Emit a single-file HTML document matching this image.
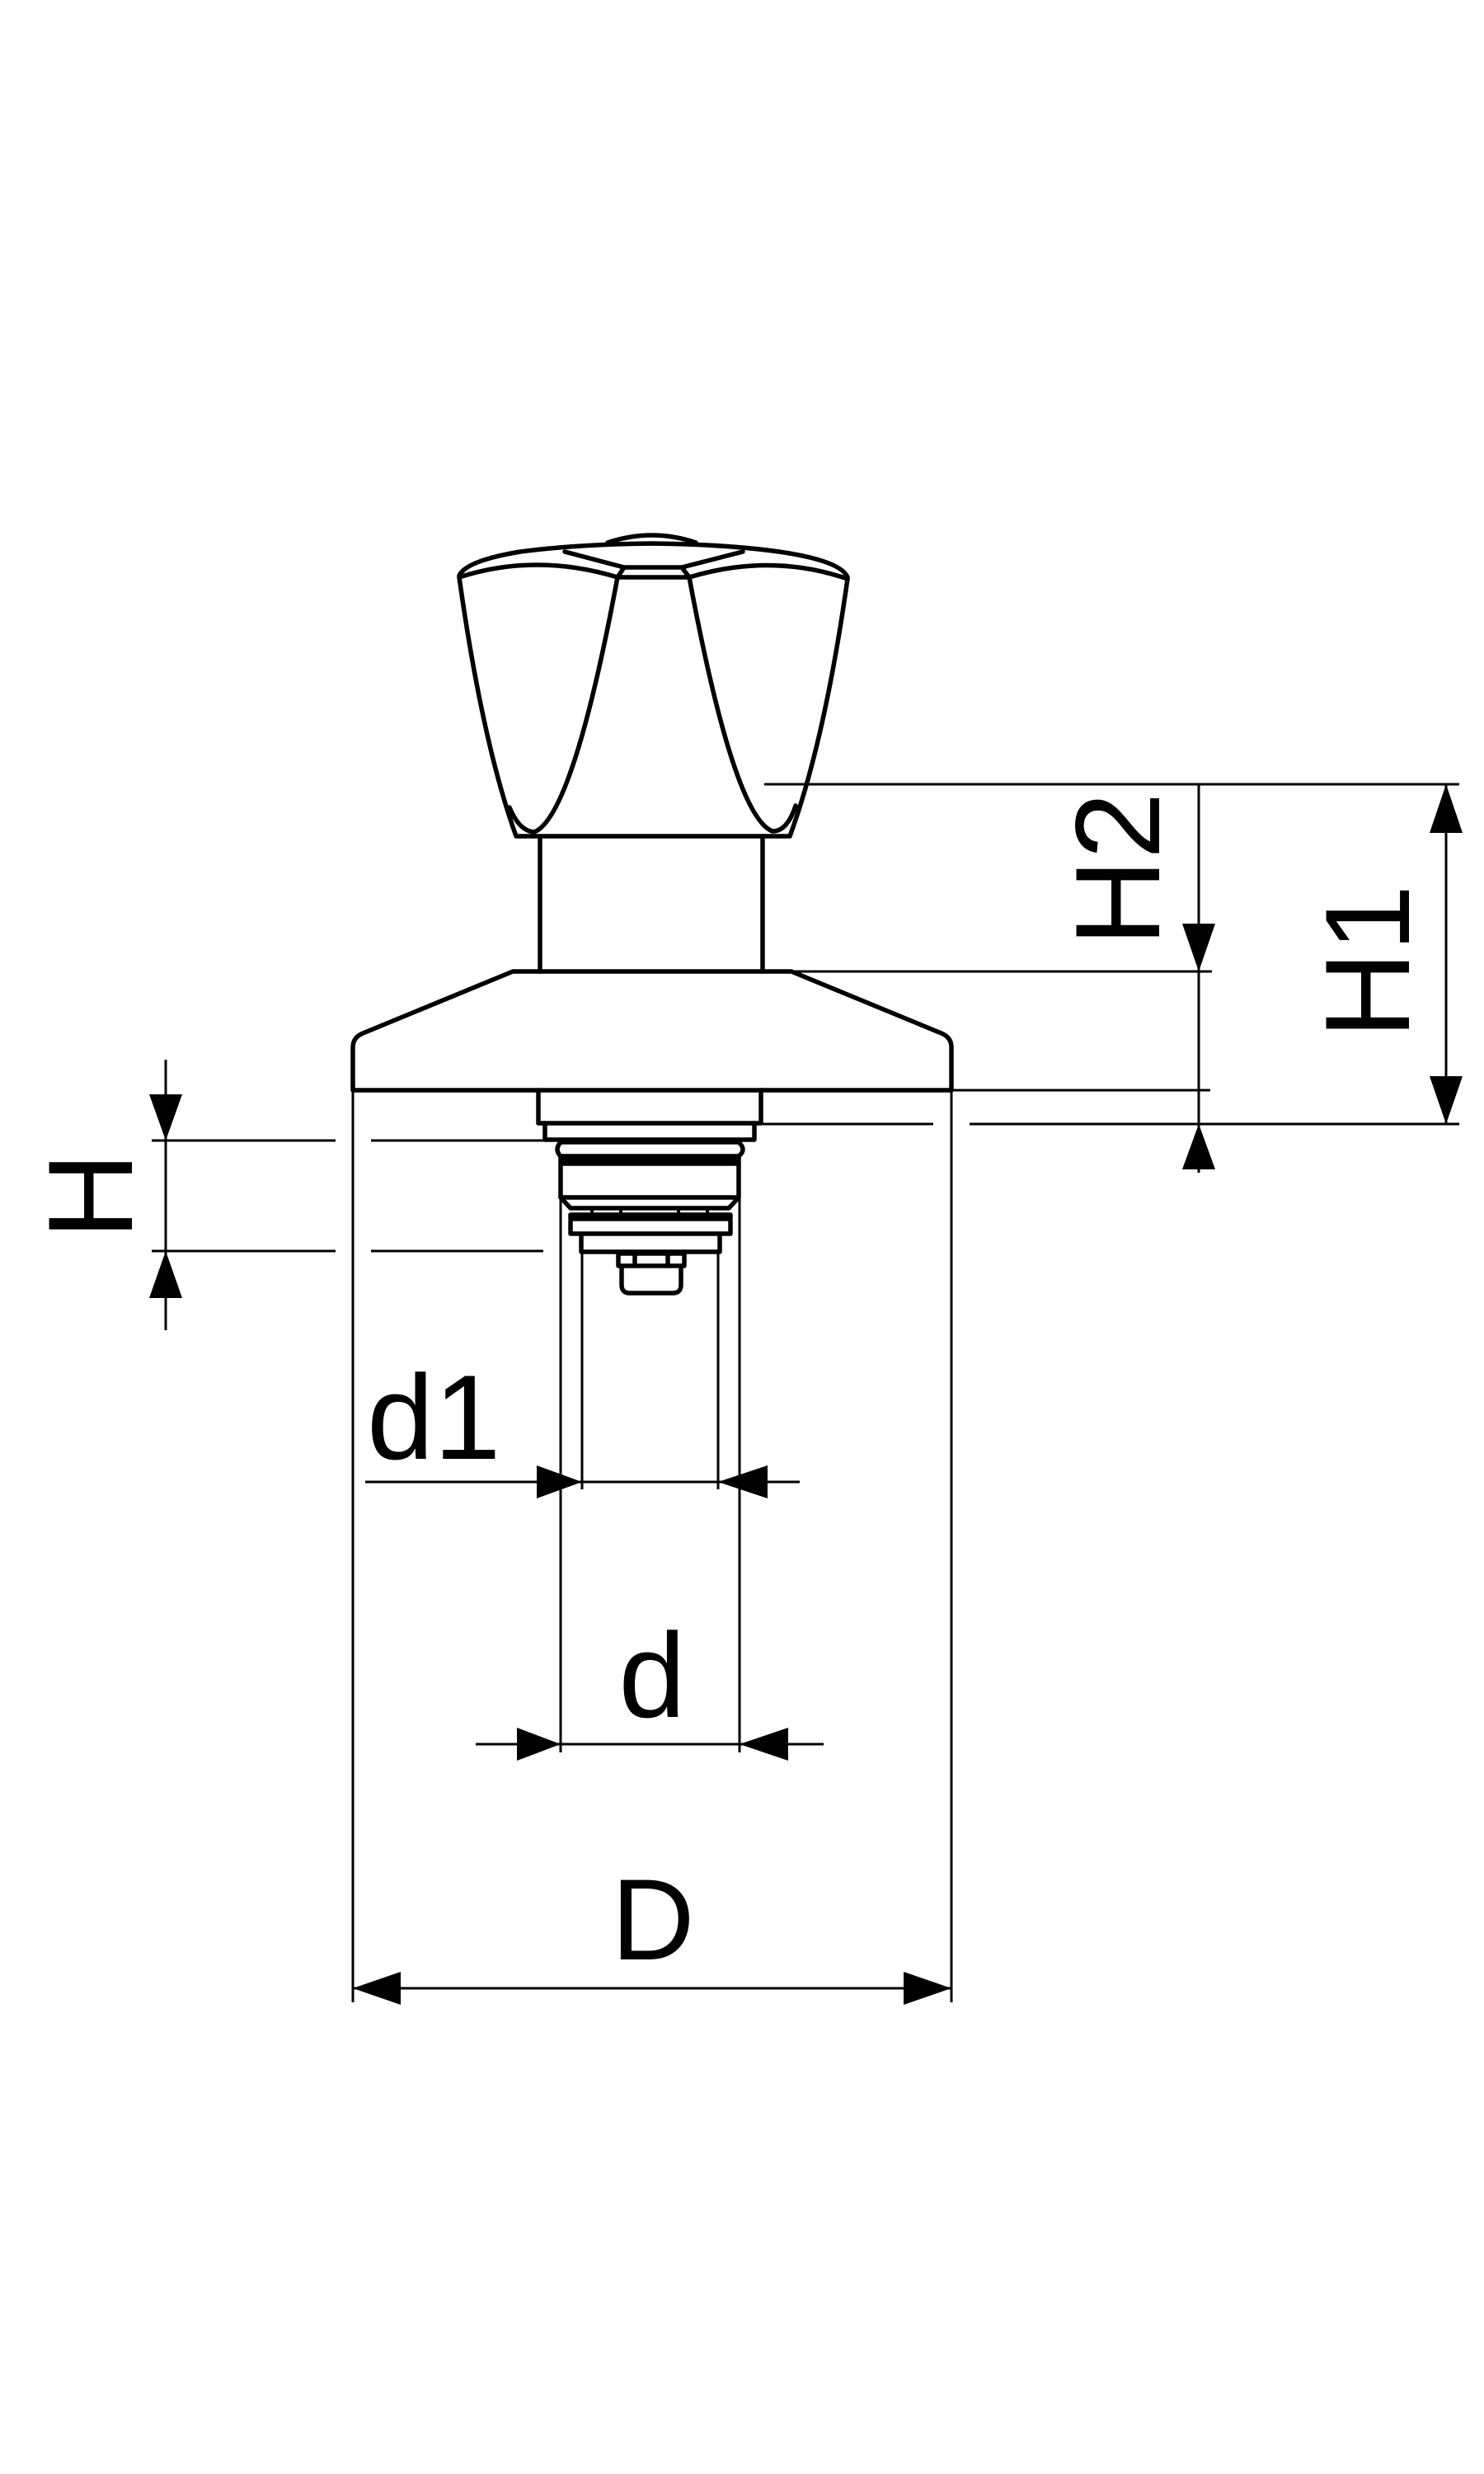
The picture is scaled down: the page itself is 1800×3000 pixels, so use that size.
<!DOCTYPE html>
<html><head><meta charset="utf-8"><style>
html,body{margin:0;padding:0;background:#fff;}
svg{display:block;}
text{font-family:"Liberation Sans",sans-serif;fill:#000;}
</style></head><body>
<svg width="1800" height="3000" viewBox="0 0 1800 3000" xmlns="http://www.w3.org/2000/svg">
<rect width="1800" height="3000" fill="#fff"/>
<g fill="none" stroke="#000" stroke-width="5.5" stroke-linejoin="round" stroke-linecap="round">
  <path d="M557,700 Q585,900 626,1014 L958,1014 Q1000,900 1028,702"/>
  <path d="M749,700 Q695,990 648,1009 Q630,1008 618,979"/>
  <path d="M836,700 Q890,990 937,1008 Q955,1008 965,977"/>
  <path d="M557,698 Q565,680 631,669 Q700,660 791,659 Q880,660 945,669 Q1020,680 1028,700"/>
  <path d="M737,658 Q791,640 844,658"/>
  <path d="M557,700 Q650,670 749,700"/>
  <path d="M836,700 Q935,670 1028,702"/>
  <path d="M749,700 L836,700 M757,688 L827,688 M749,700 L757,688 M836,700 L827,688"/>
  <path d="M757,688 L685,669 M827,688 L901,669"/>
  <path d="M655,1014 L655,1178 M925,1014 L925,1178"/>
  <path d="M428,1322 L428,1270 Q428,1258 440,1253 L622,1178 L960,1178 L1142,1253 Q1154,1258 1154,1270 L1154,1322 Z"/>
  <path d="M653,1322 L653,1362 L923,1362 L923,1322"/>
  <path d="M661,1362 L661,1382 L915,1382 L915,1362"/>
  <path d="M680,1385 Q672,1394 680,1402 L896,1402 Q906,1394 896,1385 Z"/>
  <rect x="680" y="1404" width="216" height="7" fill="#000"/>
  <path d="M680,1411 L680,1452 L896,1452 L896,1411"/>
  <path d="M680,1452 L692,1465 L884,1465 L896,1452"/>
  <path d="M718,1465 L718,1475 M753,1465 L753,1475 M823,1465 L823,1475 M858,1465 L858,1475" stroke-width="4"/>
  <path d="M697,1475 L881,1475 Q886,1476 886,1482 L886,1496 L692,1496 L692,1482 Q692,1476 697,1475 Z"/>
  <rect x="692" y="1473" width="194" height="5" fill="#000"/>
  <path d="M705,1500 L705,1518 L873,1518 L873,1500"/>
  <path d="M750,1520 L830,1520 L830,1535 L750,1535 Z M770,1520 L770,1535 M810,1520 L810,1535"/>
  <path d="M754,1535 L754,1558 Q754,1568 764,1568 L816,1568 Q826,1568 826,1558 L826,1535"/>
</g>
<g fill="none" stroke="#000" stroke-width="3">
  <path d="M428,1322 L428,2428 M1154,1322 L1154,2428"/>
  <path d="M680,1452 L680,2125 M897,1452 L897,2125"/>
  <path d="M706,1518 L706,1806 M871,1518 L871,1806"/>
  <path d="M927,951 L1770,951"/>
  <path d="M960,1178 L1470,1178"/>
  <path d="M1154,1322 L1468,1322"/>
  <path d="M925,1363 L1132,1363 M1176,1363 L1770,1363"/>
  <path d="M1754,951 L1754,1363"/>
  <path d="M1454,951 L1454,1422"/>
  <path d="M201,1285 L201,1613"/>
  <path d="M184,1383 L407,1383 M450,1383 L661,1383"/>
  <path d="M184,1517 L407,1517 M450,1517 L659,1517"/>
  <path d="M443,1797 L970,1797"/>
  <path d="M577,2115 L999,2115"/>
  <path d="M428,2411 L1154,2411"/>
</g>
<g fill="#000" stroke="none">
  <polygon points="1754,951 1734,1010 1774,1010"/>
  <polygon points="1754,1363 1734,1305 1774,1305"/>
  <polygon points="1454,1178 1434,1120 1474,1120"/>
  <polygon points="1454,1363 1434,1418 1474,1418"/>
  <polygon points="201,1383 181,1327 221,1327"/>
  <polygon points="201,1517 181,1574 221,1574"/>
  <polygon points="706,1797 651,1777 651,1817"/>
  <polygon points="871,1797 931,1777 931,1817"/>
  <polygon points="680,2115 627,2095 627,2135"/>
  <polygon points="897,2115 956,2095 956,2135"/>
  <polygon points="428,2411 486,2391 486,2431"/>
  <polygon points="1154,2411 1096,2391 1096,2431"/>
</g>
<text x="0" y="0" font-size="146" text-anchor="middle" transform="translate(1709,1166) rotate(-90)">H1</text>
<text x="0" y="0" font-size="146" text-anchor="middle" transform="translate(1406,1054) rotate(-90)">H2</text>
<text x="0" y="0" font-size="146" text-anchor="middle" transform="translate(160,1450) rotate(-90)">H</text>
<text x="445" y="1769" font-size="146">d1</text>
<text x="791" y="2082" font-size="146" text-anchor="middle">d</text>
<text x="792" y="2376" font-size="140" text-anchor="middle">D</text>
</svg>
</body></html>
